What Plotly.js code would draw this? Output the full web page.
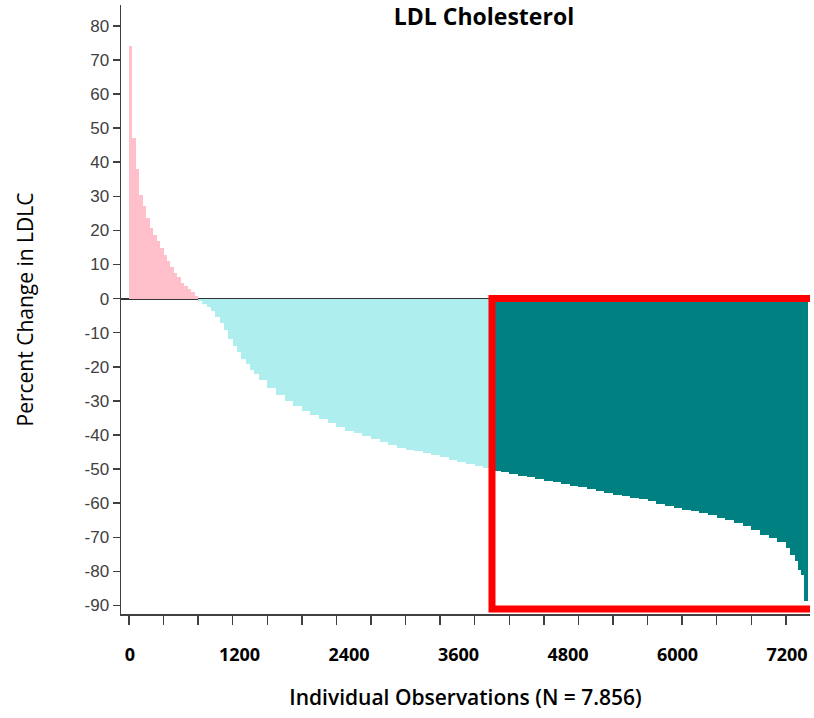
<!DOCTYPE html>
<html>
<head>
<meta charset="utf-8">
<script src="https://cdn.plot.ly/plotly-3.0.1.min.js"></script>
<style>
  html, body { margin: 0; padding: 0; background: #ffffff; }
  #chart { width: 814px; height: 718px; }
</style>
</head>
<body>
<div id="chart"></div>
<script>
// ---- Data ----
const nObservations = 7856;
const highlightStart = 4200;   // first observation inside the highlighted (teal) group

// left edge (observation index) of each bar, sorted by percent change
const binStart = [
  0, 40, 80, 120, 160, 200, 240, 280, 320, 360, 400, 440, 480, 520, 560, 600, 640, 680, 720, 760,
  800, 850, 900, 950, 1000, 1050, 1100, 1150, 1200, 1250, 1300, 1350, 1400, 1450,
  1500, 1600, 1700, 1800, 1900, 2000, 2100, 2200, 2300, 2400, 2500, 2600, 2700, 2800, 2900,
  3000, 3100, 3200, 3300, 3400, 3500, 3600, 3700, 3800, 3900, 4000, 4100,
  4200, 4300, 4400, 4500, 4600, 4700, 4800, 4900, 5000, 5100, 5200, 5300, 5400, 5500, 5600,
  5700, 5800, 5900, 6000, 6100, 6200, 6300, 6400, 6500, 6600, 6700, 6800, 6900, 7000, 7100,
  7200, 7300, 7400, 7500,
  7600, 7650, 7700, 7740, 7780, 7810
];

// percent change in LDL-C for each bar
const pctChange = [
  74.0, 47.0, 38.0, 30.3, 27.3, 23.6, 20.7, 18.7, 17.0, 14.8, 12.9, 10.9, 9.4, 7.4, 6.2, 4.6, 3.6, 2.9, 1.9, 0.8,
  -0.7, -1.5, -2.4, -3.6, -5.4, -7.3, -9.3, -11.8, -13.9, -15.8, -17.7, -19.3, -20.8, -22.0,
  -23.9, -26.2, -28.2, -30.0, -31.5, -32.9, -34.1, -35.3, -36.6, -37.6, -38.7, -39.5, -40.3, -41.3, -42.2,
  -43.0, -43.8, -44.3, -44.8, -45.3, -45.8, -46.6, -47.3, -47.8, -48.4, -49.0, -49.6,
  -50.6, -51.0, -51.4, -51.9, -52.4, -52.9, -53.4, -53.9, -54.4, -54.9, -55.4, -55.9, -56.4, -57.0, -57.5,
  -57.9, -58.4, -58.9, -59.5, -60.1, -60.7, -61.3, -61.9, -62.4, -63.0, -63.6, -64.3, -65.0, -65.8, -66.7,
  -67.9, -69.2, -70.3, -71.5,
  -73.2, -75.3, -77.0, -79.5, -81.2, -88.7
];

const yTickVals = [-90, -80, -70, -60, -50, -40, -30, -20, -10, 0, 10, 20, 30, 40, 50, 60, 70, 80];
const xLabelVals = [0, 1200, 2400, 3600, 4800, 6000, 7200];

const titleText = 'LDL Cholesterol';
const xTitleText = 'Individual Observations (N = 7.856)';
const yTitleText = 'Percent Change in LDLC';

// ---- Styles ----
const colorIncrease = '#FFC0CB';
const colorDecrease = '#AFEEEE';
const colorHighlight = '#008080';
const axisColor = '#404040';

const binWidth = binStart.map((s, i) => (i + 1 < binStart.length ? binStart[i + 1] : nObservations) - s);
const barColor = pctChange.map((v, i) =>
  v > 0 ? colorIncrease : (binStart[i] >= highlightStart ? colorHighlight : colorDecrease));

const xRange = [-92, 7879];
const yRange = [-92.5, 86.1];
const lowest = Math.min(...pctChange);

const traces = [
  {
    type: 'bar',
    x: binStart,
    y: pctChange,
    width: binWidth,
    offset: 0,
    marker: { color: barColor, line: { width: 0 } },
    hoverinfo: 'skip',
    showlegend: false
  },
  { type: 'scatter', x: [], y: [], xaxis: 'x2', yaxis: 'y', hoverinfo: 'skip', showlegend: false }
];

const layout = {
  width: 814,
  height: 718,
  margin: { l: 121, r: 4, t: 5, b: 104, pad: 0 },
  paper_bgcolor: '#ffffff',
  plot_bgcolor: '#ffffff',
  bargap: 0,
  showlegend: false,
  title: {
    text: '<b>' + titleText + '</b>',
    font: { family: 'Open Sans', size: 23, color: '#000000' },
    x: 484 / 814, xref: 'container', xanchor: 'center',
    y: 1 - 9 / 718, yref: 'container', yanchor: 'top'
  },
  xaxis: {
    range: xRange,
    tick0: 0,
    dtick: 400,
    ticks: 'outside',
    ticklen: 9,
    tickwidth: 1.5,
    tickcolor: axisColor,
    showticklabels: false,
    showline: true,
    linecolor: axisColor,
    linewidth: 1.5,
    showgrid: false,
    zeroline: false,
    title: {
      text: xTitleText,
      font: { family: 'Open Sans', size: 21, color: '#000000', weight: 600 },
      standoff: 67
    }
  },
  xaxis2: {
    overlaying: 'x',
    anchor: 'y',
    side: 'bottom',
    range: [-98.6, 7452],
    tickmode: 'array',
    tickvals: xLabelVals,
    ticktext: xLabelVals.map(String),
    ticks: '',
    showline: false,
    showgrid: false,
    zeroline: false,
    ticklabelstandoff: 28,
    tickfont: { family: 'Open Sans', size: 18, color: '#000000', weight: 'bold' }
  },
  yaxis: {
    range: yRange,
    tickmode: 'array',
    tickvals: yTickVals,
    ticktext: yTickVals.map(String),
    ticks: 'outside',
    ticklen: 7,
    tickwidth: 1.5,
    tickcolor: axisColor,
    tickfont: { family: 'Liberation Sans', size: 17, color: axisColor },
    showline: true,
    linecolor: axisColor,
    linewidth: 1.5,
    showgrid: false,
    zeroline: true,
    zerolinecolor: '#333333',
    zerolinewidth: 2,
    layer: 'above traces',
    title: {
      text: yTitleText,
      font: { family: 'Open Sans', size: 21, color: '#000000' },
      standoff: 45
    }
  },
  shapes: [
    {
      type: 'rect',
      xref: 'x', yref: 'y',
      x0: highlightStart, x1: xRange[1] + 200,
      y0: 0, y1: lowest - 2.3,
      line: { color: '#FF0000', width: 7 },
      fillcolor: 'rgba(0,0,0,0)',
      layer: 'above'
    }
  ]
};

Plotly.newPlot('chart', traces, layout, { staticPlot: true, displayModeBar: false });
</script>
</body>
</html>
